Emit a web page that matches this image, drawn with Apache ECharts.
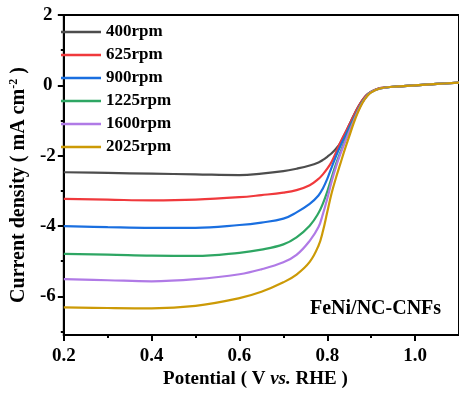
<!DOCTYPE html>
<html>
<head>
<meta charset="utf-8">
<script src="https://cdn.jsdelivr.net/npm/echarts@6/dist/echarts.min.js"></script>
<style>html,body{margin:0;padding:0;background:#fff}#c{width:459px;height:394px}</style>
</head>
<body>
<div id="c"></div>
<script>
const seriesNames = ['400rpm', '625rpm', '900rpm', '1225rpm', '1600rpm', '2025rpm'];
const potential = [0.2,0.3,0.4,0.5,0.6,0.65,0.7,0.73,0.76,0.78,0.79,0.8,0.81,0.82,0.83,0.84,0.85,0.86,0.87,0.88,0.89,0.9,0.92,0.95,1.0,1.05,1.1];
const cur400  = [-2.47,-2.49,-2.51,-2.53,-2.55,-2.51,-2.44,-2.37,-2.28,-2.19,-2.12,-2.03,-1.93,-1.80,-1.63,-1.38,-1.12,-0.86,-0.62,-0.42,-0.27,-0.18,-0.08,-0.04,0.0,0.04,0.08];
const cur625  = [-3.23,-3.25,-3.27,-3.25,-3.18,-3.12,-3.05,-2.98,-2.84,-2.66,-2.53,-2.37,-2.17,-1.90,-1.62,-1.37,-1.13,-0.87,-0.63,-0.42,-0.27,-0.18,-0.08,-0.04,0.0,0.04,0.08];
const cur900  = [-4.00,-4.03,-4.05,-4.05,-3.97,-3.90,-3.79,-3.61,-3.37,-3.13,-2.93,-2.66,-2.33,-2.01,-1.72,-1.46,-1.20,-0.95,-0.70,-0.47,-0.30,-0.19,-0.09,-0.04,0.0,0.04,0.08];
const cur1225 = [-4.79,-4.81,-4.84,-4.85,-4.76,-4.67,-4.52,-4.32,-3.99,-3.63,-3.36,-3.02,-2.62,-2.23,-1.90,-1.58,-1.28,-0.98,-0.71,-0.47,-0.30,-0.19,-0.09,-0.04,0.0,0.04,0.08];
const cur1600 = [-5.51,-5.54,-5.57,-5.51,-5.37,-5.23,-5.03,-4.82,-4.42,-4.03,-3.66,-3.22,-2.73,-2.31,-1.95,-1.62,-1.32,-1.02,-0.73,-0.49,-0.31,-0.19,-0.09,-0.04,0.0,0.04,0.08];
const cur2025 = [-6.31,-6.33,-6.34,-6.27,-6.05,-5.87,-5.60,-5.38,-5.02,-4.56,-4.15,-3.60,-3.06,-2.62,-2.22,-1.82,-1.45,-1.08,-0.76,-0.50,-0.32,-0.20,-0.09,-0.04,0.0,0.04,0.08];
const xTicks = [0.2, 0.4, 0.6, 0.8, 1.0];
const xMinorTicks = [0.3, 0.5, 0.7, 0.9];
const yTicks = [-6, -4, -2, 0, 2];
const yMinorTicks = [-7, -5, -3, -1, 1];
const sampleLabel = 'FeNi/NC-CNFs';

const colors = ['#4d4d4d', '#f0393c', '#1a6fe0', '#2ea663', '#b07ae6', '#cc9a06'];
const allCur = [cur400, cur625, cur900, cur1225, cur1600, cur2025];
const FONT = "'Times New Roman', 'Liberation Serif', serif";

const chart = echarts.init(document.getElementById('c'), null, {renderer: 'canvas'});
const series = seriesNames.map((n, i) => ({
  name: n, type: 'line', xAxisIndex: 0, yAxisIndex: 0,
  data: potential.map((v, k) => [v, allCur[i][k]]),
  symbol: 'none', showSymbol: false, smooth: 0.4,
  lineStyle: {color: colors[i], width: 2.2}, itemStyle: {color: colors[i]},
  emphasis: {disabled: true}, animation: false
}));

const option = {
  animation: false,
  grid: {left: 57, right: -3, top: 15, bottom: 53, show: true, borderColor: '#000', borderWidth: 2, backgroundColor: 'transparent'},
  legend: {
    orient: 'vertical', left: 56, top: 18.5, itemWidth: 40, itemHeight: 2.5, itemGap: 6,
    icon: 'rect',
    data: seriesNames,
    textStyle: {fontFamily: FONT, fontWeight: 'bold', fontSize: 17, color: '#000', lineHeight: 17},
    selectedMode: false
  },
  xAxis: [{
    type: 'value', min: 0.2, max: 1.1,
    name: '{a|Potential ( V }{i|vs.}{a| RHE )}', nameLocation: 'middle', nameGap: 30,
    nameTextStyle: {padding: [0, 12, 0, 0], rich: {
      a: {fontFamily: FONT, fontWeight: 'bold', fontSize: 19, color: '#000'},
      i: {fontFamily: FONT, fontWeight: 'bold', fontStyle: 'italic', fontSize: 19, color: '#000'}
    }},
    axisLine: {show: true, onZero: false, lineStyle: {color: '#000', width: 2}},
    axisTick: {show: true, inside: false, length: 6, customValues: xTicks, lineStyle: {color: '#000', width: 2}},
    axisLabel: {customValues: xTicks, margin: 11, fontFamily: FONT, fontWeight: 'bold', fontSize: 19, color: '#000', formatter: v => v.toFixed(1)},
    splitLine: {show: false}
  }, {
    type: 'value', min: 0.2, max: 1.1, position: 'bottom',
    axisLine: {show: false, onZero: false},
    axisTick: {show: true, inside: false, length: 3, customValues: xMinorTicks, lineStyle: {color: '#000', width: 2}},
    axisLabel: {show: false}, splitLine: {show: false}
  }],
  yAxis: [{
    type: 'value', min: -7.1, max: 2,
    name: '{a|Current density ( mA cm}{s|-2}{a| )}', nameLocation: 'middle', nameGap: 28, nameRotate: 90,
    nameTextStyle: {padding: [0, 20, 0, 0], rich: {
      a: {fontFamily: FONT, fontWeight: 'bold', fontSize: 20, color: '#000', lineHeight: 22},
      s: {fontFamily: FONT, fontWeight: 'bold', fontSize: 12, color: '#000', verticalAlign: 'top', lineHeight: 22, padding: [0, 0, 8, 0]}
    }},
    axisLine: {show: true, onZero: false, lineStyle: {color: '#000', width: 2}},
    axisTick: {show: true, inside: false, length: 6, customValues: yTicks, lineStyle: {color: '#000', width: 2}},
    axisLabel: {customValues: yTicks, margin: 16, align: 'center', fontFamily: FONT, fontWeight: 'bold', fontSize: 19, color: '#000'},
    splitLine: {show: false}
  }, {
    type: 'value', min: -7.1, max: 2, position: 'left',
    axisLine: {show: false, onZero: false},
    axisTick: {show: true, inside: false, length: 3, customValues: yMinorTicks, lineStyle: {color: '#000', width: 2}},
    axisLabel: {show: false}, splitLine: {show: false}
  }],
  graphic: [{
    type: 'text', left: 310, top: 299,
    style: {text: sampleLabel, font: "bold 20px 'Times New Roman', 'Liberation Serif', serif", fill: '#000'}
  }],
  series: series
};
chart.setOption(option);
</script>
</body>
</html>
